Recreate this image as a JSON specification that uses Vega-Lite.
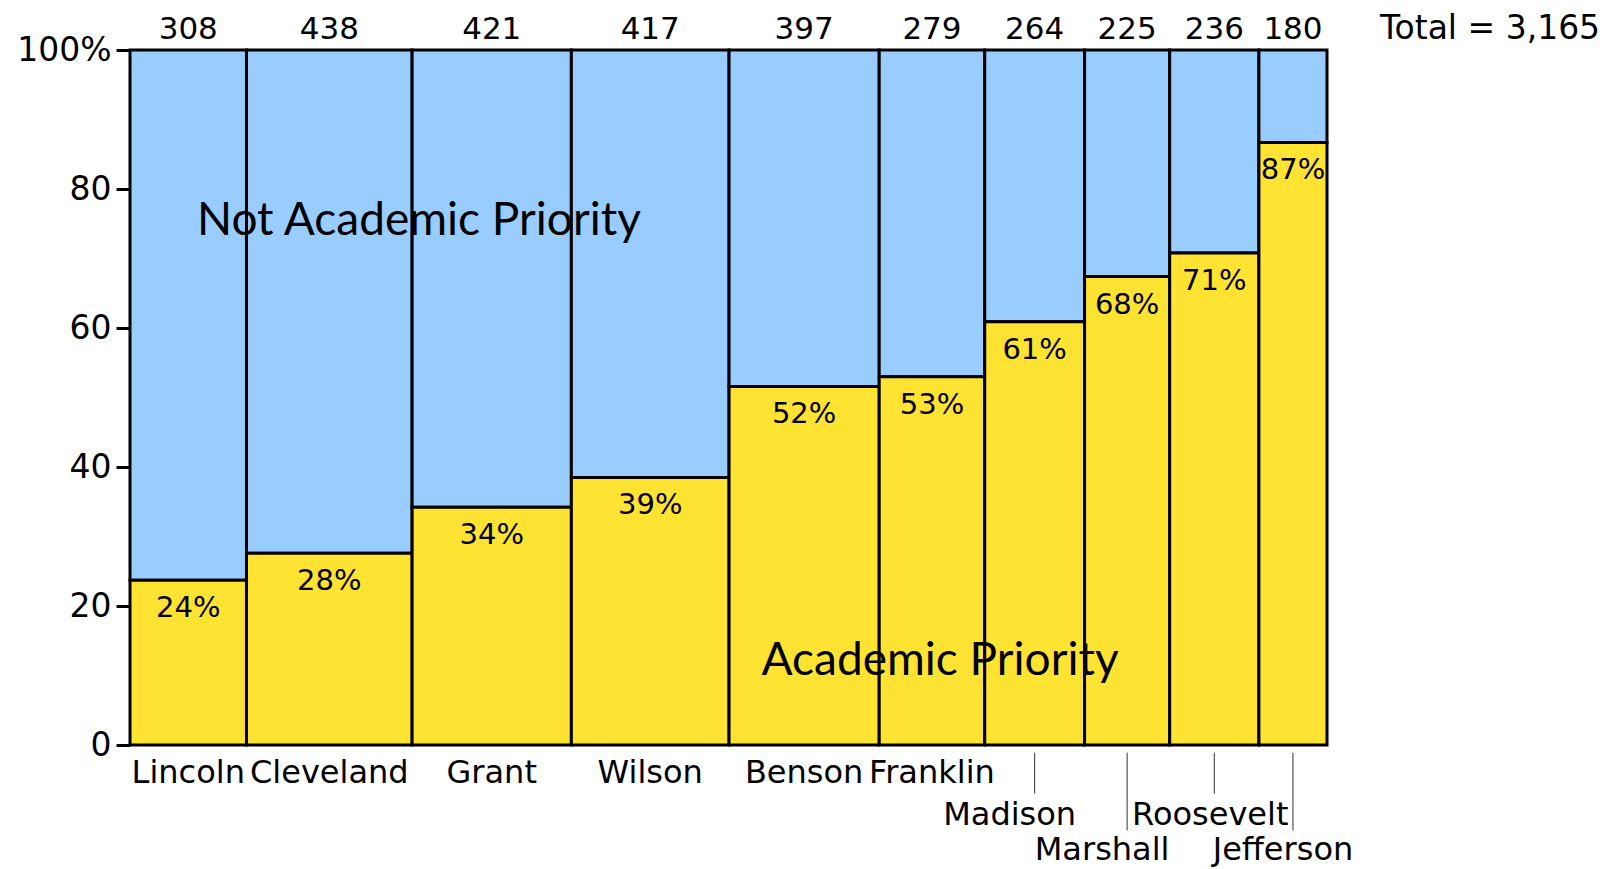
{
  "$schema": "https://vega.github.io/schema/vega-lite/v6.json",
  "autosize": {"type": "none"},
  "padding": {"left": 130, "top": 50, "right": 288, "bottom": 124},
  "width": 1197,
  "height": 695,
  "background": "white",
  "config": {"view": {"stroke": null}, "font": "DejaVu Sans"},
  "datasets": {
    "schools": [
      {"school": "Lincoln", "n": 308, "academic": 23.7, "pct": 24, "order": 1, "row": 1},
      {"school": "Cleveland", "n": 438, "academic": 27.6, "pct": 28, "order": 2, "row": 1},
      {"school": "Grant", "n": 421, "academic": 34.2, "pct": 34, "order": 3, "row": 1},
      {"school": "Wilson", "n": 417, "academic": 38.5, "pct": 39, "order": 4, "row": 1},
      {"school": "Benson", "n": 397, "academic": 51.6, "pct": 52, "order": 5, "row": 1},
      {"school": "Franklin", "n": 279, "academic": 53.0, "pct": 53, "order": 6, "row": 1},
      {"school": "Madison", "n": 264, "academic": 60.9, "pct": 61, "order": 7, "row": 2},
      {"school": "Marshall", "n": 225, "academic": 67.4, "pct": 68, "order": 8, "row": 3},
      {"school": "Roosevelt", "n": 236, "academic": 70.8, "pct": 71, "order": 9, "row": 2},
      {"school": "Jefferson", "n": 180, "academic": 86.7, "pct": 87, "order": 10, "row": 3}
    ]
  },
  "data": {"name": "schools"},
  "transform": [
    {"stack": "n", "groupby": [], "sort": [{"field": "order"}], "as": ["x0", "x1"]},
    {"calculate": "(datum.x0 + datum.x1) / 2", "as": "xm"},
    {"calculate": "datum.pct + '%'", "as": "pctLabel"}
  ],
  "layer": [
    {
      "mark": {"type": "rect", "fill": "#99CCFF", "stroke": "black", "strokeWidth": 3},
      "encoding": {
        "x": {"field": "x0", "type": "quantitative", "scale": {"domain": [0, 3165], "nice": false, "zero": false}, "axis": null},
        "x2": {"field": "x1"},
        "y": {"field": "academic", "type": "quantitative", "scale": {"domain": [0, 100], "nice": false},
          "axis": {"values": [0, 20, 40, 60, 80, 100], "labelExpr": "datum.value == 100 ? '100%' : datum.label", "title": null, "domain": false, "grid": false, "tickColor": "black", "tickWidth": 3, "tickSize": 14, "labelFontSize": 33, "labelColor": "black", "labelPadding": 5, "labelFont": "DejaVu Sans"}},
        "y2": {"datum": 100}
      }
    },
    {
      "mark": {"type": "rect", "fill": "#FFE333", "stroke": "black", "strokeWidth": 3},
      "encoding": {
        "x": {"field": "x0", "type": "quantitative"},
        "x2": {"field": "x1"},
        "y": {"field": "academic", "type": "quantitative"},
        "y2": {"datum": 0}
      }
    },
    {
      "mark": {"type": "text", "fontSize": 31, "baseline": "alphabetic", "dy": -11, "color": "black"},
      "encoding": {
        "x": {"field": "xm", "type": "quantitative"},
        "y": {"datum": 100},
        "text": {"field": "n", "type": "quantitative", "format": "d"}
      }
    },
    {
      "mark": {"type": "text", "fontSize": 29, "baseline": "middle", "dy": 28, "color": "black"},
      "encoding": {
        "x": {"field": "xm", "type": "quantitative"},
        "y": {"field": "academic", "type": "quantitative"},
        "text": {"field": "pctLabel"}
      }
    },
    {
      "transform": [{"filter": "datum.row == 1"}],
      "mark": {"type": "text", "fontSize": 32, "baseline": "middle", "dy": 28, "color": "black"},
      "encoding": {
        "x": {"field": "xm", "type": "quantitative"},
        "y": {"datum": 0},
        "text": {"field": "school"}
      }
    },
    {
      "transform": [{"filter": "datum.school == 'Madison'"}],
      "mark": {"type": "text", "fontSize": 32, "baseline": "middle", "dy": 70, "dx": -25, "color": "black"},
      "encoding": {
        "x": {"field": "xm", "type": "quantitative"},
        "y": {"datum": 0},
        "text": {"field": "school"}
      }
    },
    {
      "transform": [{"filter": "datum.school == 'Roosevelt'"}],
      "mark": {"type": "text", "fontSize": 32, "baseline": "middle", "dy": 70, "dx": -4, "color": "black"},
      "encoding": {
        "x": {"field": "xm", "type": "quantitative"},
        "y": {"datum": 0},
        "text": {"field": "school"}
      }
    },
    {
      "transform": [{"filter": "datum.school == 'Marshall'"}],
      "mark": {"type": "text", "fontSize": 32, "baseline": "middle", "dy": 105, "dx": -25, "color": "black"},
      "encoding": {
        "x": {"field": "xm", "type": "quantitative"},
        "y": {"datum": 0},
        "text": {"field": "school"}
      }
    },
    {
      "transform": [{"filter": "datum.school == 'Jefferson'"}],
      "mark": {"type": "text", "fontSize": 32, "baseline": "middle", "dy": 105, "dx": -10, "color": "black"},
      "encoding": {
        "x": {"field": "xm", "type": "quantitative"},
        "y": {"datum": 0},
        "text": {"field": "school"}
      }
    },
    {
      "transform": [{"filter": "datum.row == 2"}],
      "mark": {"type": "rule", "color": "#333333", "strokeWidth": 1},
      "encoding": {
        "x": {"field": "xm", "type": "quantitative"},
        "y": {"datum": -1.1},
        "y2": {"datum": -7}
      }
    },
    {
      "transform": [{"filter": "datum.row == 3"}],
      "mark": {"type": "rule", "color": "#333333", "strokeWidth": 1},
      "encoding": {
        "x": {"field": "xm", "type": "quantitative"},
        "y": {"datum": -1.1},
        "y2": {"datum": -12.3}
      }
    },
    {
      "data": {"values": [{"label": "Not Academic Priority"}]},
      "mark": {"type": "text", "font": "Lato", "fontSize": 46, "align": "center", "baseline": "middle", "color": "black"},
      "encoding": {
        "x": {"datum": 764},
        "y": {"datum": 75.4},
        "text": {"field": "label"}
      }
    },
    {
      "data": {"values": [{"label": "Academic Priority"}]},
      "mark": {"type": "text", "font": "Lato", "fontSize": 46, "align": "center", "baseline": "middle", "color": "black"},
      "encoding": {
        "x": {"datum": 2142},
        "y": {"datum": 12.1},
        "text": {"field": "label"}
      }
    },
    {
      "data": {"values": [{"label": "Total = 3,165"}]},
      "mark": {"type": "text", "fontSize": 33, "align": "left", "baseline": "alphabetic", "dy": -11, "color": "black"},
      "encoding": {
        "x": {"datum": 3305},
        "y": {"datum": 100},
        "text": {"field": "label"}
      }
    }
  ]
}
